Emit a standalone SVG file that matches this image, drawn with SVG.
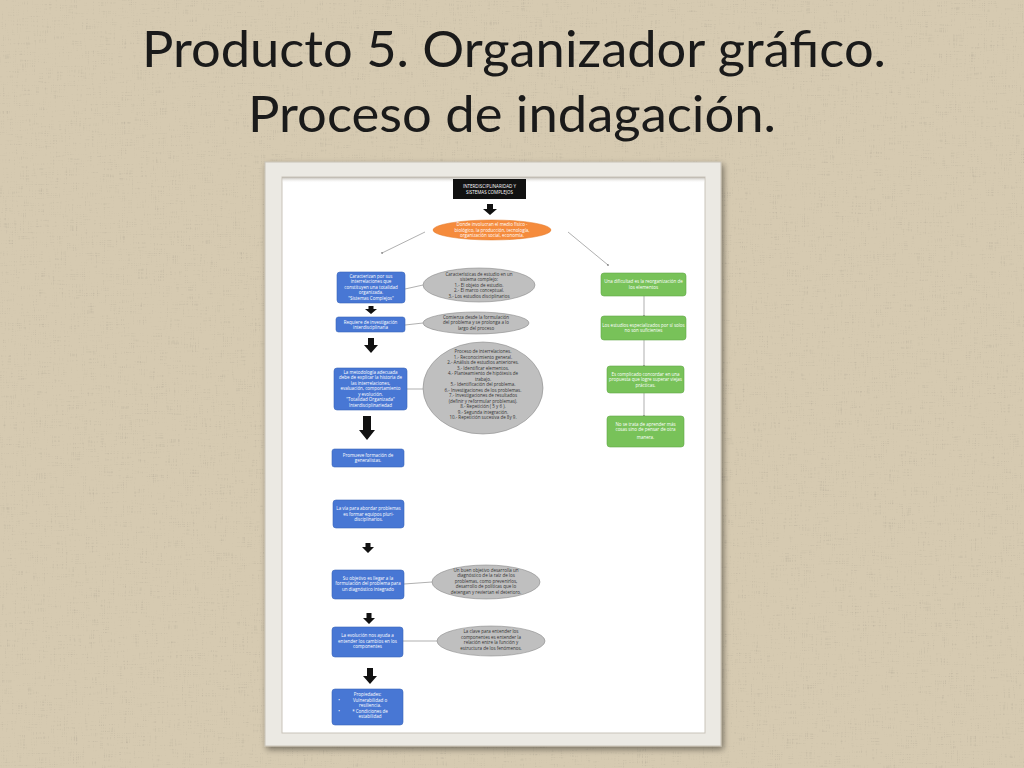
<svg xmlns="http://www.w3.org/2000/svg" width="1024" height="768" viewBox="0 0 1024 768">
<defs>
<filter id="linen" x="0" y="0" width="100%" height="100%">
<feTurbulence type="fractalNoise" baseFrequency="0.9 0.06" numOctaves="2" seed="3" result="n1"/>
<feTurbulence type="fractalNoise" baseFrequency="0.06 0.9" numOctaves="2" seed="7" result="n2"/>
<feBlend in="n1" in2="n2" mode="multiply" result="n"/>
<feColorMatrix in="n" type="matrix" values="0 0 0 0 0.42  0 0 0 0 0.37  0 0 0 0 0.29  0 0 0 -1.5 1.05"/>
</filter>
<filter id="shadow" x="-10%" y="-10%" width="120%" height="120%">
<feGaussianBlur in="SourceAlpha" stdDeviation="3"/>
<feOffset dx="2" dy="3"/>
<feComponentTransfer><feFuncA type="linear" slope="0.45"/></feComponentTransfer>
<feMerge><feMergeNode/><feMergeNode in="SourceGraphic"/></feMerge>
</filter>
<linearGradient id="inset" x1="0" y1="0" x2="0" y2="1">
<stop offset="0" stop-color="#b9b4aa"/>
<stop offset="1" stop-color="#ffffff" stop-opacity="0"/>
</linearGradient>
<style>
.title{font-family:Lato,"Open Sans","Liberation Sans",sans-serif;font-size:51px;fill:#1a1a1a;text-anchor:middle}
.t{font-family:"Open Sans","Liberation Sans",sans-serif;font-size:4.5px;text-anchor:middle}
.w{fill:#ffffff}
.d{fill:#333333}
.blue{fill:#4877d4;stroke:#3b66b8;stroke-width:0.6}
.green{fill:#78c259;stroke:#62a846;stroke-width:0.6}
.gray{fill:#bfbfbf;stroke:#8c8c8c;stroke-width:0.6}
.orange{fill:#f58b3c;stroke:#e07a2c;stroke-width:0.5}
.conn{stroke:#7a7a7a;stroke-width:0.6;fill:none}
.arr{fill:#111111}
</style>
<marker id="dot" viewBox="0 0 4 4" refX="2" refY="2" markerWidth="3" markerHeight="3" orient="auto">
<circle cx="2" cy="2" r="1.6" fill="#444"/>
</marker>
</defs>

<rect x="0" y="0" width="1024" height="768" fill="#d6caB1"/>
<rect x="0" y="0" width="1024" height="768" filter="url(#linen)" opacity="0.8"/>

<text class="title" x="514" y="67" textLength="744" lengthAdjust="spacingAndGlyphs">Producto 5. Organizador gráfico.</text>
<text class="title" x="512" y="132" textLength="528" lengthAdjust="spacingAndGlyphs">Proceso de indagación.</text>

<g id="frame">
<rect x="265" y="162" width="456" height="584" fill="#ebe9e3" stroke="#c8c2b6" stroke-width="1" filter="url(#shadow)"/>
<rect x="282" y="177" width="423" height="556" fill="#ffffff" stroke="#c9c4ba" stroke-width="1"/>
<rect x="282" y="177" width="423" height="6" fill="url(#inset)"/>
</g>

<g id="connectors">
<line class="conn" x1="425" y1="232" x2="382" y2="253" marker-end="url(#dot)"/>
<line class="conn" x1="568" y1="232" x2="608" y2="265" marker-end="url(#dot)"/>
<line class="conn" x1="405" y1="289" x2="423" y2="285"/>
<line class="conn" x1="405" y1="325" x2="423" y2="323"/>
<line class="conn" x1="407" y1="389" x2="423" y2="389"/>
<line class="conn" x1="404" y1="584" x2="432" y2="582"/>
<line class="conn" x1="403" y1="641" x2="437" y2="641"/>
<line class="conn" x1="644" y1="296" x2="644" y2="316" marker-end="url(#dot)"/>
<line class="conn" x1="644" y1="340" x2="644" y2="366" marker-end="url(#dot)"/>
<line class="conn" x1="644" y1="393" x2="644" y2="416" marker-end="url(#dot)"/>
<polygon class="arr" points="487,204 493,204 493,209 497,209 490,215 483,209 487,209"/>
<polygon class="arr" points="368.5,306 373.5,306 373.5,309 377,309 371,314 365,309 368.5,309"/>
<polygon class="arr" points="368,338 374,338 374,345 378,345 371,353 364,345 368,345"/>
<polygon class="arr" points="363,416 371,416 371,430 375,430 367,440 359,430 363,430"/>
<polygon class="arr" points="365.5,543 370.5,543 370.5,547 374,547 368,553 362,547 365.5,547"/>
<polygon class="arr" points="366.5,613 371.5,613 371.5,618 375,618 369,624 363,618 366.5,618"/>
<polygon class="arr" points="367,668 373,668 373,676 377,676 370,684 363,676 367,676"/>
</g>

<g id="header">
<rect x="453" y="179" width="73" height="20" fill="#111111"/>
<text class="t w" x="489.5" y="188">INTERDISCIPLINARIDAD Y</text>
<text class="t w" x="489.5" y="194">SISTEMAS COMPLEJOS</text>
</g>

<g id="orange">
<ellipse class="orange" cx="492" cy="230" rx="59" ry="10"/>
<text class="t w" x="492" y="226">Donde involucran el medio físico -</text>
<text class="t w" x="492" y="231.5">biológico, la producción, tecnología,</text>
<text class="t w" x="492" y="237">organización social, economía.</text>
</g>

<g id="blue1">
<rect class="blue" x="337" y="272" width="68" height="31" rx="3"/>
<text class="t w" x="371" y="277.5">Caracterizan por sus</text>
<text class="t w" x="371" y="283">interrelaciones que</text>
<text class="t w" x="371" y="288.5">constituyen una totalidad</text>
<text class="t w" x="371" y="294">organizada.</text>
<text class="t w" x="371" y="299.5">"Sistemas Complejos"</text>
</g>

<g id="gray1">
<ellipse class="gray" cx="479" cy="285" rx="56" ry="17"/>
<text class="t d" x="479" y="275.5">Características de estudio en un</text>
<text class="t d" x="479" y="281">sistema complejo:</text>
<text class="t d" x="479" y="286.5">1.- El objeto de estudio.</text>
<text class="t d" x="479" y="292">2.- El marco conceptual.</text>
<text class="t d" x="479" y="297.5">3.- Los estudios disciplinarios</text>
</g>

<g id="blue2">
<rect class="blue" x="336" y="317" width="69" height="15" rx="2.5"/>
<text class="t w" x="370.5" y="323.5">Requiere de investigación</text>
<text class="t w" x="370.5" y="329">interdisciplinaria</text>
</g>

<g id="gray2">
<ellipse class="gray" cx="476" cy="323" rx="53" ry="11"/>
<text class="t d" x="476" y="318.5">Comienza desde la formulación</text>
<text class="t d" x="476" y="324">del problema y se prolonga a lo</text>
<text class="t d" x="476" y="329.5">largo del proceso</text>
</g>

<g id="blue3">
<rect class="blue" x="334" y="368" width="73" height="42" rx="3"/>
<text class="t w" x="370.5" y="373.5">La metodología adecuada</text>
<text class="t w" x="370.5" y="379">debe de explicar la historia de</text>
<text class="t w" x="370.5" y="384.5">las interrelaciones,</text>
<text class="t w" x="370.5" y="390">evaluación, comportamiento</text>
<text class="t w" x="370.5" y="395.5">y evolución.</text>
<text class="t w" x="370.5" y="401">"Totalidad Organizada"</text>
<text class="t w" x="370.5" y="406.5">Interdisciplinariedad</text>
</g>

<g id="gray3">
<ellipse class="gray" cx="483" cy="388" rx="60" ry="46"/>
<text class="t d" x="483" y="353">Proceso de interrelaciones.</text>
<text class="t d" x="483" y="358.5">1.- Reconocimiento general.</text>
<text class="t d" x="483" y="364">2.- Análisis de estudios anteriores.</text>
<text class="t d" x="483" y="369.5">3.- Identificar elementos.</text>
<text class="t d" x="483" y="375">4.- Planteamiento de hipótesis de</text>
<text class="t d" x="483" y="380.5">trabajo.</text>
<text class="t d" x="483" y="386">5.- Identificación del problema.</text>
<text class="t d" x="483" y="391.5">6.- Investigaciones de los problemas.</text>
<text class="t d" x="483" y="397">7.- Investigaciones de resultados</text>
<text class="t d" x="483" y="402.5">(definir y reformular problemas).</text>
<text class="t d" x="483" y="408">8.- Repetición ( 5 y 6 ).</text>
<text class="t d" x="483" y="413.5">9.- Segunda integración.</text>
<text class="t d" x="483" y="419">10.- Repetición sucesiva de 8y 9.</text>
</g>

<g id="blue4">
<rect class="blue" x="332" y="449" width="72" height="18" rx="2.5"/>
<text class="t w" x="368" y="456.5">Promueve formación de</text>
<text class="t w" x="368" y="462">generalistas.</text>
</g>

<g id="blue5">
<rect class="blue" x="333" y="500" width="71" height="28" rx="3"/>
<text class="t w" x="368.5" y="510">La vía para abordar problemas</text>
<text class="t w" x="368.5" y="515.5">es formar equipos pluri-</text>
<text class="t w" x="368.5" y="521">disciplinarios.</text>
</g>

<g id="blue6">
<rect class="blue" x="332" y="570" width="72" height="29" rx="3"/>
<text class="t w" x="368" y="579.5">Su objetivo es llegar a la</text>
<text class="t w" x="368" y="585">formulación del problema para</text>
<text class="t w" x="368" y="590.5">un diagnóstico integrado</text>
</g>

<g id="gray4">
<ellipse class="gray" cx="486" cy="582" rx="54" ry="17"/>
<text class="t d" x="486" y="571.5">Un buen objetivo desarrolla un</text>
<text class="t d" x="486" y="577">diagnóstico de la raíz de los</text>
<text class="t d" x="486" y="582.5">problemas, como prevenirlos,</text>
<text class="t d" x="486" y="588">desarrollo de políticas que lo</text>
<text class="t d" x="486" y="593.5">detengan y reviertan el deterioro.</text>
</g>

<g id="blue7">
<rect class="blue" x="332" y="627" width="71" height="30" rx="3"/>
<text class="t w" x="367.5" y="637">La evolución  nos ayuda a</text>
<text class="t w" x="367.5" y="642.5">entender los cambios en los</text>
<text class="t w" x="367.5" y="648">componentes</text>
</g>

<g id="gray5">
<ellipse class="gray" cx="491" cy="641" rx="54" ry="15"/>
<text class="t d" x="491" y="633">La clave para entender los</text>
<text class="t d" x="491" y="638.5">componentes es entender  la</text>
<text class="t d" x="491" y="644">relación entre la función y</text>
<text class="t d" x="491" y="649.5">estructura de los fenómenos.</text>
</g>

<g id="blue8">
<rect class="blue" x="332" y="689" width="71" height="36" rx="3"/>
<text class="t w" x="367.5" y="696">Propiedades:</text>
<text class="t w" x="339" y="701.5">•</text>
<text class="t w" x="370" y="701.5">Vulnerabilidad o</text>
<text class="t w" x="370" y="707">resiliencia.</text>
<text class="t w" x="339" y="712.5">•</text>
<text class="t w" x="370" y="712.5">* Condiciones de</text>
<text class="t w" x="370" y="718">estabilidad</text>
</g>

<g id="green1">
<rect class="green" x="601" y="273" width="85" height="23" rx="3"/>
<text class="t w" x="643.5" y="283">Una dificultad es la reorganización de</text>
<text class="t w" x="643.5" y="288.5">los elementos</text>
</g>

<g id="green2">
<rect class="green" x="601" y="316" width="85" height="24" rx="3"/>
<text class="t w" x="643.5" y="326.5">Los estudios especializados por sí solos</text>
<text class="t w" x="643.5" y="332">no son suficientes</text>
</g>

<g id="green3">
<rect class="green" x="607" y="366" width="77" height="27" rx="3"/>
<text class="t w" x="645.5" y="375.5">Es complicado concordar en una</text>
<text class="t w" x="645.5" y="381">propuesta que logre superar viejas</text>
<text class="t w" x="645.5" y="386.5">prácticas.</text>
</g>

<g id="green4">
<rect class="green" x="607" y="416" width="77" height="31" rx="3"/>
<text class="t w" x="645.5" y="425.5">No se trata de aprender más</text>
<text class="t w" x="645.5" y="431">cosas sino de pensar de otra</text>
<text class="t w" x="645.5" y="438.5">manera.</text>
</g>
</svg>
